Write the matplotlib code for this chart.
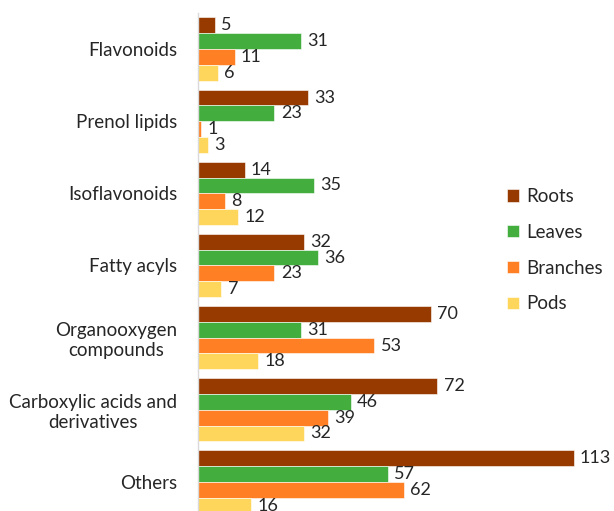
import matplotlib.pyplot as plt
import numpy as np

categories = [
    "Flavonoids",
    "Prenol lipids",
    "Isoflavonoids",
    "Fatty acyls",
    "Organooxygen\ncompounds",
    "Carboxylic acids and\nderivatives",
    "Others",
]
series_names = ["Roots", "Leaves", "Branches", "Pods"]
roots = [5, 33, 14, 32, 70, 72, 113]
leaves = [31, 23, 35, 36, 31, 46, 57]
branches = [11, 1, 8, 23, 53, 39, 62]
pods = [6, 3, 12, 7, 18, 32, 16]

colors = ["#963A00", "#43AE3D", "#FE7F24", "#FFD65C"]

plt.rcParams["font.family"] = ["Lato", "DejaVu Sans"]

fig = plt.figure(figsize=(6.14, 5.11), dpi=100)
ax = fig.add_axes([0.3225, -0.0137, 0.658, 0.9883])

y = np.arange(len(categories))
h = 0.875 / 4
for j, (name, vals) in enumerate(zip(series_names, [roots, leaves, branches, pods])):
    bars = ax.barh(y + (j - 1.5) * h, vals, height=h, color=colors[j],
                   edgecolor="white", linewidth=0.4, label=name)
    ax.bar_label(bars, padding=4.5, fontsize=13, color="#262626")

ax.set_yticks(y)
ax.set_yticklabels(categories, fontsize=13.5, color="#262626",
                   multialignment="center", linespacing=1.2)
ax.tick_params(axis="y", length=0, pad=15)
ax.set_ylim(len(categories) - 0.5, -0.5)
ax.set_xlim(0, 121.5)
ax.set_xticks([])

for s in ["top", "right", "bottom"]:
    ax.spines[s].set_visible(False)
ax.spines["left"].set_color("#d9d9d9")
ax.spines["left"].set_linewidth(1)

handles, labels = ax.get_legend_handles_labels()
fig.legend(handles, labels, loc="upper left", bbox_to_anchor=(0.826, 0.632),
           frameon=False, borderpad=0, borderaxespad=0,
           fontsize=13.5, handlelength=0.62, handleheight=0.62, handletextpad=0.4,
           labelspacing=1.0, labelcolor="#262626")

fig.savefig("out.png", dpi=100, facecolor="white")
